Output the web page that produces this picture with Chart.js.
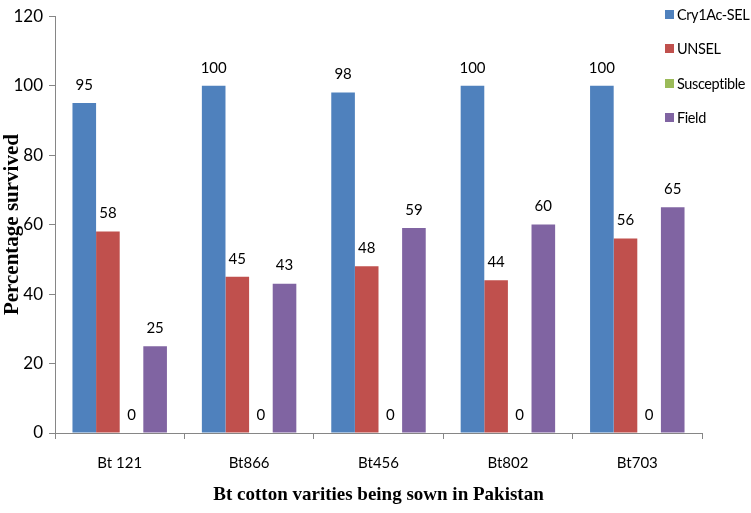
<!DOCTYPE html>
<html>
<head>
<meta charset="utf-8">
<script src="https://cdn.jsdelivr.net/npm/chart.js@4.4.1/dist/chart.umd.min.js"></script>
<style>
  body { margin: 0; background: #fff; }
  #wrap { position: relative; width: 751px; height: 513px; }
  #legend { position: absolute; left: 665px; top: -3px; font-family: Lato, sans-serif; font-size: 14.5px; letter-spacing: -0.4px; color: #000; white-space: nowrap; }
  #legend .item { height: 34.5px; display: flex; align-items: center; }
  #legend .box { width: 9px; height: 9px; margin-right: 3px; }
</style>
</head>
<body>
<div id="wrap">
  <canvas id="chart" width="751" height="513"></canvas>
  <div id="legend"></div>
</div>
<script>
// data
var varieties = ["Bt 121", "Bt866", "Bt456", "Bt802", "Bt703"];
var seriesNames = ["Cry1Ac-SEL", "UNSEL", "Susceptible", "Field"];
var cry1acSel = [95, 100, 98, 100, 100];
var unsel = [58, 45, 48, 44, 56];
var susceptible = [0, 0, 0, 0, 0];
var field = [25, 43, 59, 60, 65];
var yTicks = [0, 20, 40, 60, 80, 100, 120];

var colors = ["#4F81BD", "#C0504D", "#9BBB59", "#8064A2"];
var values = [cry1acSel, unsel, susceptible, field];
var sansFont = "Lato, sans-serif";
var serifFont = "'Liberation Serif', 'Times New Roman', serif";

// value labels above each bar
var barLabels = {
    id: "barLabels",
    afterDatasetsDraw: function(chart) {
        var ctx = chart.ctx;
        ctx.save();
        ctx.font = "15px " + sansFont;
        ctx.fillStyle = "#000";
        ctx.textAlign = "center";
        ctx.textBaseline = "middle";
        chart.data.datasets.forEach(function(ds, i) {
            chart.getDatasetMeta(i).data.forEach(function(bar, j) {
                ctx.fillText(ds.data[j], bar.x, bar.y - 18);
            });
        });
        ctx.restore();
    }
};

var ctx1 = document.getElementById("chart");
var chart1 = new Chart(ctx1, {
    type: "bar",
    data: {
        labels: varieties,
        datasets: seriesNames.map(function(name, i) {
            return {
                label: name,
                data: values[i],
                backgroundColor: colors[i],
                borderWidth: 0,
                categoryPercentage: 0.73,
                barPercentage: 1.0
            };
        })
    },
    options: {
        responsive: false,
        animation: false,
        layout: { padding: { top: 11, right: 49, left: 0, bottom: 0 } },
        plugins: {
            legend: { display: false },
            tooltip: { enabled: false }
        },
        scales: {
            x: {
                afterFit: function(s) { s.height = 80; },
                grid: { offset: true, drawOnChartArea: false, tickLength: 6, color: "#868686" },
                border: { color: "#868686" },
                ticks: { color: "#000", font: { family: sansFont, size: 15 }, padding: 15 },
                title: {
                    display: true,
                    text: "Bt cotton varities being sown in Pakistan",
                    color: "#000",
                    font: { family: serifFont, size: 19, weight: "bold" },
                    padding: { top: 0, bottom: 7 }
                }
            },
            y: {
                min: 0,
                max: 120,
                afterFit: function(s) { s.width = 55; },
                afterBuildTicks: function(s) { s.ticks = yTicks.map(function(v) { return { value: v }; }); },
                grid: { drawOnChartArea: false, tickLength: 6, color: "#868686" },
                border: { color: "#868686" },
                ticks: { color: "#000", font: { family: sansFont, size: 17 }, padding: 6 },
                title: {
                    display: true,
                    text: "Percentage survived",
                    color: "#000",
                    font: { family: serifFont, size: 21, weight: "bold" },
                    padding: { top: 0, bottom: 0 }
                }
            }
        }
    },
    plugins: [barLabels]
});

// legend on the right
var leg = document.getElementById("legend");
seriesNames.forEach(function(name, i) {
    var row = document.createElement("div");
    row.className = "item";
    row.innerHTML = '<span class="box" style="background:' + colors[i] + '"></span><span>' + name + '</span>';
    leg.appendChild(row);
});
</script>
</body>
</html>
